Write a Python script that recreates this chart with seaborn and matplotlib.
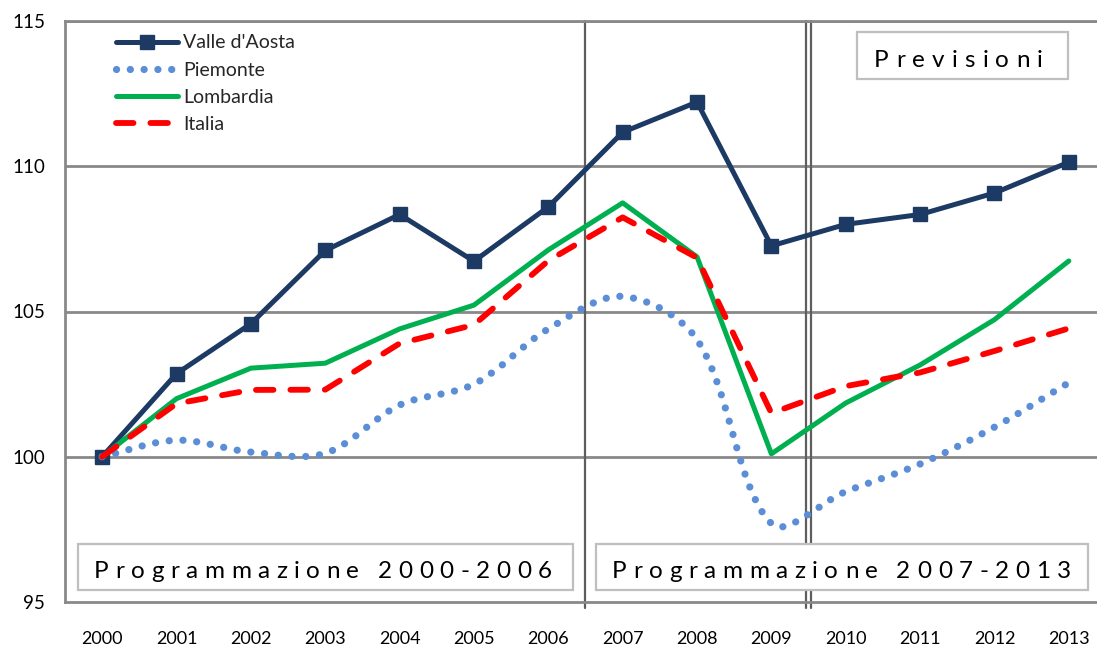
import numpy as np
import pandas as pd
import matplotlib
matplotlib.use("Agg")
import matplotlib.pyplot as plt
import seaborn as sns
from matplotlib.path import Path
from matplotlib.patches import PathPatch, Rectangle
from matplotlib.lines import Line2D
from matplotlib.font_manager import FontProperties

# ---------------- data ----------------
years = ['2000', '2001', '2002', '2003', '2004', '2005', '2006',
         '2007', '2008', '2009', '2010', '2011', '2012', '2013']
valle = [100, 102.86, 104.58, 107.1, 108.34, 106.73, 108.6,
         111.17, 112.21, 107.26, 108.0, 108.34, 109.08, 110.14]
piemonte = [100, 100.57, 100.16, 100.12, 101.78, 102.5, 104.4,
            105.52, 104.03, 97.7, 98.8, 99.75, 101.02, 102.55]
lombardia = [100, 102.0, 103.05, 103.22, 104.4, 105.22, 107.12,
             108.74, 106.88, 100.1, 101.85, 103.16, 104.72, 106.74]
italia = [100, 101.83, 102.3, 102.31, 103.9, 104.54, 106.75,
          108.24, 106.85, 101.5, 102.43, 102.9, 103.64, 104.42]
series_names = ["Valle d'Aosta", "Piemonte", "Lombardia", "Italia"]
y_ticks = [95, 100, 105, 110, 115]
box_labels = ["Programmazione 2000-2006", "Programmazione 2007-2013", "Previsioni"]

# ---------------- style ----------------
sns.set_style("white")
plt.rcParams['font.family'] = ['Lato', 'DejaVu Sans']

C_VALLE = '#1C3A63'
C_PIEM = '#5B8ED6'
C_LOMB = '#00B050'
C_ITA = '#FF0000'
C_GRID = '#898989'
C_VLINE = '#5E5E5E'
C_BOX = '#BFBFBF'

W, H = 1097, 648
fig = plt.figure(figsize=(W / 100, H / 100), dpi=100)
ax = fig.add_axes([65 / W, 1 - 602 / H, 1041 / W, 581 / H])
ax.set_xlim(-0.5, 13.5)
ax.set_ylim(95, 115)

pos = np.arange(len(years))
df = pd.DataFrame({'pos': pos, 'valle': valle, 'piemonte': piemonte,
                   'lombardia': lombardia, 'italia': italia})

# Valle d'Aosta
sns.lineplot(data=df, x='pos', y='valle', ax=ax, color=C_VALLE, lw=3.6,
             marker='s', markersize=10.5, markeredgecolor=C_VALLE,
             markerfacecolor=C_VALLE, markeredgewidth=1, zorder=3,
             legend=False)

# Piemonte: smoothed Bezier line (spreadsheet-style smoothing, computed
# in screen space so that tangents are weighted by segment lengths)
Ppx = ax.transData.transform(np.column_stack([pos, np.asarray(piemonte, float)]))
n = len(Ppx)
d = np.hypot(*np.diff(Ppx, axis=0).T)
verts = [Ppx[0]]
codes = [Path.MOVETO]
for i in range(n - 1):
    if i > 0:
        c1 = Ppx[i] + (Ppx[i + 1] - Ppx[i - 1]) * d[i] / (d[i - 1] + d[i]) / 3.0
    else:
        c1 = Ppx[i] + (Ppx[i + 1] - Ppx[i]) / 3.0
    if i + 2 < n:
        c2 = Ppx[i + 1] - (Ppx[i + 2] - Ppx[i]) * d[i] / (d[i] + d[i + 1]) / 3.0
    else:
        c2 = Ppx[i + 1] - (Ppx[i + 1] - Ppx[i]) / 3.0
    verts += [c1, c2, Ppx[i + 1]]
    codes += [Path.CURVE4] * 3
verts_data = ax.transData.inverted().transform(np.array(verts))
piem_patch = PathPatch(Path(verts_data, codes), fill=False, edgecolor=C_PIEM,
                       lw=5.2, linestyle=(0, (0.01, 1.9)), capstyle='round',
                       zorder=3.1)
ax.add_patch(piem_patch)

# Lombardia
sns.lineplot(data=df, x='pos', y='lombardia', ax=ax, color=C_LOMB, lw=3.6,
             zorder=3.2, legend=False)
# Italia
sns.lineplot(data=df, x='pos', y='italia', ax=ax, color=C_ITA, lw=4.2,
             linestyle=(0, (3.0, 2.9)), dash_capstyle='round', zorder=3.3,
             legend=False)

# ---------------- axes ----------------
ax.set_xlim(-0.5, 13.5)
ax.set_ylim(95, 115)
ax.set_xlabel('')
ax.set_ylabel('')
ax.set_yticks(y_ticks)
ax.set_yticklabels([str(v) for v in y_ticks], fontsize=13.5)
ax.set_xticks(np.arange(-0.5, 14.0, 1.0))
ax.set_xticklabels([])
ax.set_xticks(pos, minor=True)
ax.set_xticklabels(years, minor=True, fontsize=13)

ax.grid(False)
for yv in y_ticks[1:]:
    ax.axhline(yv, color=C_GRID, lw=2.0, zorder=1)

for side in ['left', 'bottom', 'top']:
    ax.spines[side].set_visible(True)
    ax.spines[side].set_color(C_GRID)
    ax.spines[side].set_linewidth(2.0)
ax.spines['right'].set_visible(False)

ax.tick_params(axis='y', which='major', direction='out', length=4.3,
               width=1.5, color=C_GRID, pad=10, labelcolor='black')
ax.tick_params(axis='x', which='major', direction='inout', length=8.6,
               width=1.5, color=C_GRID)
ax.tick_params(axis='x', which='minor', direction='in', length=3.6,
               width=1.5, color=C_GRID, pad=21, labelcolor='black')

# period separators
ax.axvline(6.5, ymin=-0.011, ymax=1, color=C_VLINE, lw=1.6, zorder=1.5,
           clip_on=False)
for dx in (-0.034, 0.034):
    ax.axvline(9.5 + dx, ymin=-0.011, ymax=1, color=C_VLINE, lw=1.6,
               zorder=1.5, clip_on=False)

# ---------------- legend ----------------
handles = [
    Line2D([], [], color=C_VALLE, lw=3.6, marker='s', markersize=10.5,
           markeredgecolor=C_VALLE, solid_capstyle='round'),
    Line2D([], [], color=C_PIEM, lw=5.2, linestyle=(0, (0.01, 1.9)),
           dash_capstyle='round'),
    Line2D([], [], color=C_LOMB, lw=3.6, solid_capstyle='round'),
    Line2D([], [], color=C_ITA, lw=4.2, linestyle=(0, (3.0, 2.9)),
           dash_capstyle='round'),
]
ax.legend(handles, series_names, loc='upper left',
          bbox_to_anchor=(116 / W, 1 - 34.5 / H), bbox_transform=fig.transFigure,
          frameon=False, borderpad=0, borderaxespad=0, fontsize=14,
          handlelength=3.2, handletextpad=0.25, labelspacing=0.52,
          numpoints=1)

# ---------------- annotation boxes ----------------
renderer = fig.canvas.get_renderer()


def spaced_text(s, x_left, x_right, baseline_y, fontsize):
    prop = FontProperties(family=['Lato', 'DejaVu Sans'], size=fontsize)
    widths = []
    for ch in s:
        if ch == ' ':
            widths.append(0.22 * fontsize * 100 / 72)
        else:
            w, _, _ = renderer.get_text_width_height_descent(ch, prop, ismath=False)
            widths.append(w)
    extra = ((x_right - x_left) - sum(widths)) / (len(s) - 1)
    x = x_left
    for ch, w in zip(s, widths):
        if ch != ' ':
            fig.text(x / W, 1 - baseline_y / H, ch, ha='left', va='baseline',
                     fontproperties=prop, color='black', zorder=7)
        x += w + extra


def box(x0, y0, x1, y1):
    fig.add_artist(Rectangle((x0 / W, 1 - y1 / H), (x1 - x0) / W,
                             (y1 - y0) / H, transform=fig.transFigure,
                             facecolor='white', edgecolor=C_BOX, lw=1.6,
                             zorder=6))


box(78, 544, 573, 590)
spaced_text(box_labels[0], 94, 552, 578, 17.5)
box(596, 544, 1088, 590)
spaced_text(box_labels[1], 612, 1071, 578, 17.5)
box(857, 32, 1068, 79)
spaced_text(box_labels[2], 874, 1043, 67, 17.5)

fig.savefig('out.png', dpi=100)
